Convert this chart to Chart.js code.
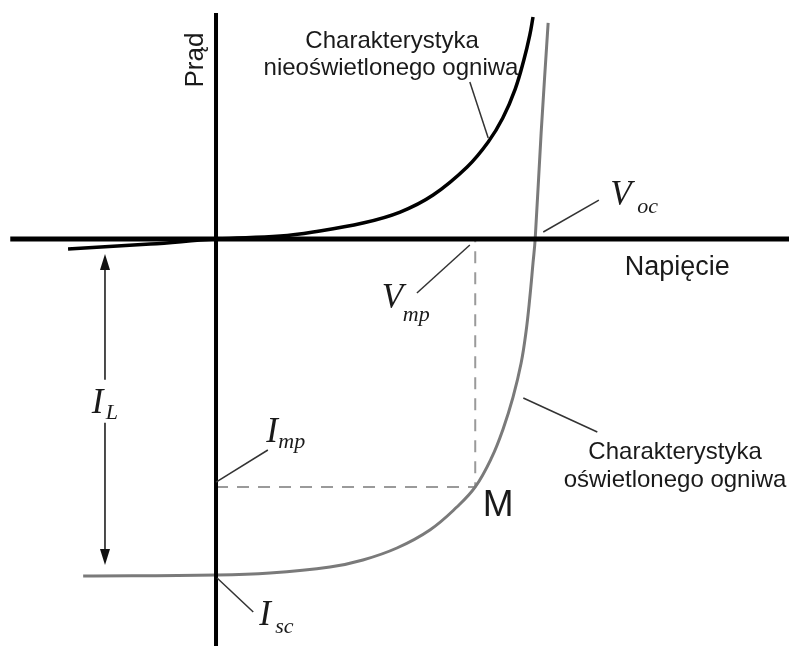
<!DOCTYPE html>
<html>
<head>
<meta charset="utf-8">
<script src="https://cdn.jsdelivr.net/npm/chart.js@4"></script>
<style>
  body { margin: 0; background: #fff; }
  canvas { display: block; }
</style>
</head>
<body>
<canvas id="ivChart" width="789" height="646"></canvas>
<script>
// dark (unlit) cell curve: voltage / current in arbitrary units
const darkV = [-0.274, -0.122, 0, 0.119, 0.180, 0.272, 0.341, 0.402, 0.465, 0.504, 0.531, 0.554, 0.570, 0.581, 0.587];
const darkI = [-0.089, -0.045, 0, 0.027, 0.063, 0.143, 0.241, 0.393, 0.643, 0.866, 1.080, 1.339, 1.598, 1.821, 1.982];

// lit cell curve
const litV = [-0.246, 0, 0.100, 0.211, 0.272, 0.335, 0.396, 0.446, 0.480, 0.511, 0.531, 0.550, 0.565, 0.574, 0.581, 0.587, 0.591, 0.602, 0.615];
const litI = [-3.009, -3.000, -2.982, -2.929, -2.866, -2.759, -2.598, -2.393, -2.214, -1.946, -1.705, -1.411, -1.107, -0.830, -0.527, -0.214, 0, 0.946, 1.929];

// characteristic points
const Voc = 0.591;
const Isc = -3.0;
const Vmp = 0.480;
const Imp = -2.214;

// visible window of the axes
const X_MIN = -0.4, X_MAX = 1.061;
const Y_MIN = -3.634, Y_MAX = 2.134;

const toPts = (xs, ys) => xs.map((x, k) => ({ x: x, y: ys[k] }));

// annotations drawn on top, in data units
const leaders = [
  [0.470, 1.402, 0.504, 0.902],
  [0.606, 0.0625, 0.709, 0.348],
  [0.470, -0.054, 0.372, -0.482],
  [0.000, -2.170, 0.096, -1.884],
  [0.002, -3.027, 0.069, -3.330],
  [0.569, -1.420, 0.706, -1.723]
];
const mathLabels = [
  { t: 'V', s: 'oc', v: 0.730, i: 0.304, dx: 27, dy: 8 },
  { t: 'V', s: 'mp', v: 0.307, i: -0.616, dx: 21, dy: 13 },
  { t: 'I', s: 'mp', v: 0.093, i: -1.813, dx: 12, dy: 6 },
  { t: 'I', s: 'sc', v: 0.080, i: -3.446, dx: 16, dy: 8 },
  { t: 'I', s: 'L', v: -0.230, i: -1.554, dx: 14, dy: 6 }
];

const annotate = {
  id: 'annotate',
  afterDatasetsDraw(chart) {
    const c = chart.ctx;
    const sx = chart.scales.x, sy = chart.scales.y;
    const X = v => sx.getPixelForValue(v);
    const Y = i => sy.getPixelForValue(i);
    c.save();

    // leader lines
    c.strokeStyle = '#333';
    c.lineWidth = 1.5;
    leaders.forEach(l => {
      c.beginPath();
      c.moveTo(X(l[0]), Y(l[1]));
      c.lineTo(X(l[2]), Y(l[3]));
      c.stroke();
    });

    // I_L arrow
    const ax = X(-0.2056);
    const top = Y(-0.134), bot = Y(-2.911);
    c.strokeStyle = '#111';
    c.fillStyle = '#111';
    c.lineWidth = 1.5;
    c.beginPath();
    c.moveTo(ax, top + 10); c.lineTo(ax, Y(-1.257));
    c.moveTo(ax, Y(-1.641)); c.lineTo(ax, bot - 10);
    c.stroke();
    c.beginPath();
    c.moveTo(ax, top); c.lineTo(ax - 5, top + 16); c.lineTo(ax + 5, top + 16); c.closePath(); c.fill();
    c.beginPath();
    c.moveTo(ax, bot); c.lineTo(ax - 5, bot - 16); c.lineTo(ax + 5, bot - 16); c.closePath(); c.fill();

    // plain text labels
    c.fillStyle = '#1a1a1a';
    c.textBaseline = 'alphabetic';
    c.font = '24px "Liberation Sans", Arial, sans-serif';
    c.textAlign = 'center';
    c.fillText('Charakterystyka', X(0.326), Y(1.705));
    c.fillText('nieoświetlonego ogniwa', X(0.324), Y(1.464));
    c.fillText('Charakterystyka', X(0.850), Y(-1.964));
    c.fillText('oświetlonego ogniwa', X(0.850), Y(-2.214));
    c.textAlign = 'left';
    c.font = '27px "Liberation Sans", Arial, sans-serif';
    c.fillText('Napięcie', X(0.757), Y(-0.321));
    c.font = '37px "Liberation Sans", Arial, sans-serif';
    c.fillText('M', X(0.494), Y(-2.473));

    // rotated axis title
    c.save();
    c.translate(X(-0.024), Y(1.598));
    c.rotate(-Math.PI / 2);
    c.textAlign = 'center';
    c.font = '26px "Liberation Sans", Arial, sans-serif';
    c.fillText('Prąd', 0, 0);
    c.restore();

    // symbols with subscripts
    c.textAlign = 'left';
    mathLabels.forEach(m => {
      const px = X(m.v), py = Y(m.i);
      c.font = 'italic 35px "Liberation Serif", "Times New Roman", serif';
      c.fillText(m.t, px, py);
      c.font = 'italic 22px "Liberation Serif", "Times New Roman", serif';
      c.fillText(m.s, px + m.dx, py + m.dy);
    });

    c.restore();
  }
};

const ctx = document.getElementById('ivChart').getContext('2d');
const ivChart = new Chart(ctx, {
  type: 'scatter',
  data: {
    datasets: [
      {
        label: 'dark',
        data: toPts(darkV, darkI),
        showLine: true,
        borderColor: '#000',
        borderWidth: 3.5,
        tension: 0.4
      },
      {
        label: 'voltage axis',
        data: [{ x: -0.381, y: 0 }, { x: X_MAX, y: 0 }],
        showLine: true,
        borderColor: '#000',
        borderWidth: 5
      },
      {
        label: 'current axis',
        data: [{ x: 0, y: 2.018 }, { x: 0, y: Y_MIN }],
        showLine: true,
        borderColor: '#000',
        borderWidth: 4
      },
      {
        label: 'lit',
        data: toPts(litV, litI),
        showLine: true,
        borderColor: '#7a7a7a',
        borderWidth: 3,
        tension: 0.4
      },
      {
        label: 'mpp',
        data: [{ x: 0, y: Imp }, { x: Vmp, y: Imp }, { x: Vmp, y: 0 }],
        showLine: true,
        borderColor: '#9a9a9a',
        borderWidth: 2,
        borderDash: [12, 9]
      }
    ]
  },
  options: {
    responsive: false,
    animation: false,
    layout: { padding: 0 },
    elements: { point: { radius: 0, hoverRadius: 0 } },
    scales: {
      x: { type: 'linear', min: X_MIN, max: X_MAX, display: false },
      y: { type: 'linear', min: Y_MIN, max: Y_MAX, display: false }
    },
    plugins: {
      legend: { display: false },
      tooltip: { enabled: false }
    },
    events: []
  },
  plugins: [annotate]
});
</script>
</body>
</html>
